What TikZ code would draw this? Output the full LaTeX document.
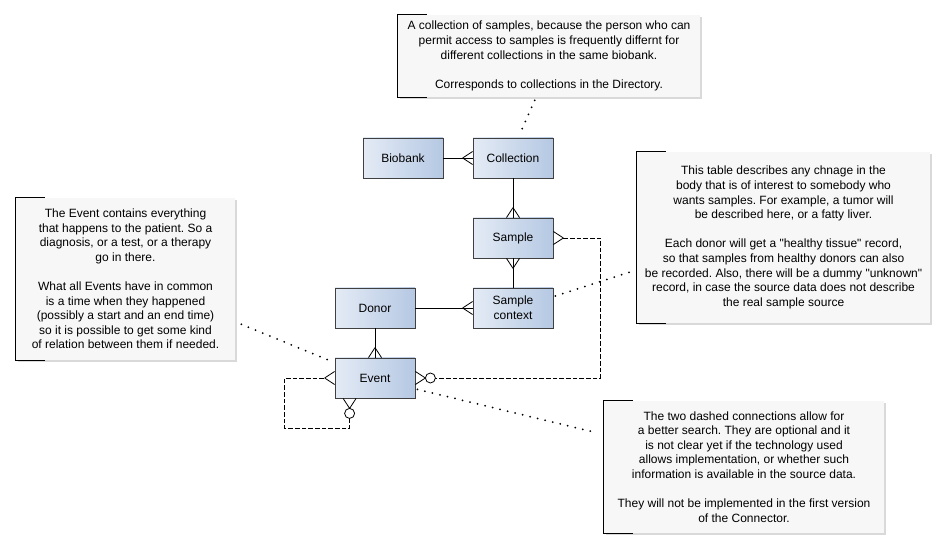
\documentclass[tikz,border=0pt]{standalone}
\usepackage{fontspec}
\setmainfont{Liberation Sans}
\usetikzlibrary{calc,shadows}
\definecolor{entA}{HTML}{E4EBF5}
\definecolor{entB}{HTML}{B5C8E3}
\definecolor{notefill}{HTML}{F7F7F7}
\newcommand\dq{\XeTeXglyph\XeTeXcharglyph"22\relax}
\frenchspacing
\begin{document}
\begin{tikzpicture}[x=0.75pt,y=-0.75pt,
  ent/.style={draw=black!75, line width=0.6pt, left color=entA, right color=entB,
    minimum width=60pt, minimum height=30pt, align=center, inner sep=1pt,
    font=\fontsize{9}{11}\selectfont,
    drop shadow={shadow xshift=1pt, shadow yshift=-1pt, opacity=0.25}},
  note/.style={fill=notefill, align=center, inner sep=0pt,
    font=\fontsize{9}{10.95}\selectfont,
    drop shadow={shadow xshift=1.5pt, shadow yshift=-1.5pt, opacity=0.3}},
  rel/.style={line width=0.6pt, black},
  opt/.style={rel, dash pattern=on 3.5pt off 1.5pt},
  dotline/.style={line width=1.5pt, dash pattern=on 0pt off 5.8pt, line cap=round},
  crow/.pic={\draw[rel] (-10,0) -- (0,-6.5) (-10,0) -- (0,6.5);},
]
\useasboundingbox (0,0) rectangle (945,548);

% notes
\node[note, minimum width=226.5pt, minimum height=61.5pt] (n1) at (549,56)
  {A collection of samples, because the person who can\\
   permit access to samples is frequently differnt for\\
   different collections in the same biobank.\\[10.95pt]
   Corresponds to collections in the Directory.};
\draw[rel] ($(n1.north west)+(29,0)$) -| (n1.south west) -- ++(29,0);

\node[note, minimum width=219.75pt, minimum height=128.25pt] (n2) at (783.5,237.5)
  {This table describes any chnage in the\\
   body that is of interest to somebody who\\
   wants samples. For example, a tumor will\\
   be described here, or a fatty liver.\\[10.95pt]
   Each donor will get a \dq healthy tissue\dq{} record,\\
   so that samples from healthy donors can also\\
   be recorded. Also, there will be a dummy \dq unknown\dq\\
   record, in case the source data does not describe\\
   the real sample source};
\draw[rel] ($(n2.north west)+(29,0)$) -| (n2.south west) -- ++(29,0);

\node[note, minimum width=164.25pt, minimum height=121.5pt] (n3) at (125.5,279)
  {The Event contains everything\\
   that happens to the patient. So a\\
   diagnosis, or a test, or a therapy\\
   go in there.\\[10.95pt]
   What all Events have in common\\
   is a time when they happened\\
   (possibly a start and an end time)\\
   so it is possible to get some kind\\
   of relation between them if needed.};
\draw[rel] ($(n3.north west)+(29,0)$) -| (n3.south west) -- ++(29,0);

\node[note, minimum width=210pt, minimum height=99pt] (n4) at (744,467)
  {The two dashed connections allow for\\
   a better search. They are optional and it\\
   is not clear yet if the technology used\\
   allows implementation, or whether such\\
   information is available in the source data.\\[10.95pt]
   They will not be implemented in the first version\\
   of the Connector.};
\draw[rel] ($(n4.north west)+(29,0)$) -| (n4.south west) -- ++(29,0);

% entities
\node[ent] (biobank) at (403,158) {Biobank};
\node[ent] (collection) at (513,158) {Collection};
\node[ent] (sample) at (513,238) {Sample};
\node[ent] (context) at (513,308) {Sample\\context};
\node[ent] (donor) at (375,308) {Donor};
\node[ent] (event) at (375,378) {Event};

% relations
\draw[rel] (biobank.east) -- (collection.west);
\pic at (collection.west) {crow};
\draw[rel] (collection.south) -- (sample.north);
\pic[rotate=-90] at (sample.north) {crow};
\draw[rel] (sample.south) -- (context.north);
\pic[rotate=90] at (sample.south) {crow};
\draw[rel] (donor.east) -- (context.west);
\pic at (context.west) {crow};
\draw[rel] (donor.south) -- (event.north);
\pic[rotate=-90] at (event.north) {crow};

% optional sample -> event
\pic[rotate=180] at (sample.east) {crow};
\pic[rotate=180] at (event.east) {crow};
\draw[opt] ($(sample.east)+(10,0)$) -- ++(37,0) |- ($(event.east)+(20,0)$);
\draw[rel, fill=white] ($(event.east)+(15,0)$) circle[radius=3.75pt];

% optional self loop
\coordinate (evb) at ($(event.south west)+(15,0)$);
\pic at (event.west) {crow};
\pic[rotate=90] at (evb) {crow};
\draw[opt] ($(evb)+(0,20)$) -- ++(0,10) -| ($(event.west)+(-50,0)$) -- ($(event.west)+(-10,0)$);
\draw[rel, fill=white] ($(evb)+(0,15)$) circle[radius=3.75pt];

% dotted note links
\draw[dotline] ($(n1.south west)+(137,3)$) -- ($(collection.north)+(7,-4)$);
\draw[dotline] ($(context.east)+(2,-12)$) -- ($(n2.west)+(-5,34)$);
\draw[dotline] ($(n3.south east)+(6,-36)$) -- ($(event.north west)+(-5,3)$);
\draw[dotline] ($(event.south east)+(2,-9)$) -- ($(n4.west)+(-6,-34)$);
\end{tikzpicture}
\end{document}
